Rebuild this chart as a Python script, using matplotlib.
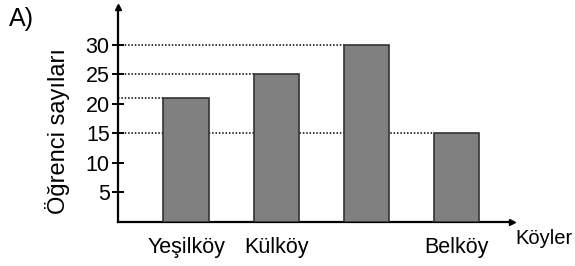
import matplotlib
matplotlib.use("Agg")
import matplotlib.pyplot as plt

categories = ["Yeşilköy", "Külköy", "", "Belköy"]
values = [21, 25, 30, 15]
yticks = [5, 10, 15, 20, 25, 30]

plt.rcParams['font.family'] = ['Liberation Sans', 'DejaVu Sans']

W, H = 575, 266
fig = plt.figure(figsize=(W/100, H/100), dpi=100)
left, right, bottom, top = 118, 512, 222, 7
ax = fig.add_axes([left/W, (H-bottom)/H, (right-left)/W, (bottom-top)/H])

x = list(range(len(values)))
bw = 0.5
ax.bar(x, values, width=bw, color="#808080", edgecolor="#333333", linewidth=1.2, zorder=3)

xmin, xmax = -0.754, 3.614
ax.set_xlim(xmin, xmax)
ax.set_ylim(0, 36.4)

for xi, v in zip(x, values):
    ax.hlines(v, xmin, xi - bw/2, colors="black", linestyles=(0, (1, 1.2)), linewidth=1.1, zorder=2)

ax.spines['top'].set_visible(False)
ax.spines['right'].set_visible(False)
ax.spines['left'].set_linewidth(1.6)
ax.spines['bottom'].set_linewidth(1.6)
ax.plot([0], [1], marker='^', color='black', markersize=5, transform=ax.transAxes, clip_on=False)
ax.plot([1], [0], marker='>', color='black', markersize=5, transform=ax.transAxes, clip_on=False)

ax.set_yticks(yticks)
ax.set_yticklabels([str(t) for t in yticks], fontsize=15.5)
ax.tick_params(axis='y', direction='inout', length=8, width=1.4, pad=2)
ax.set_xticks(x)
ax.set_xticklabels(categories, fontsize=15.5)
ax.tick_params(axis='x', length=0, pad=11)

fig.text(515/W, 1 - 239/H, "Köyler", fontsize=14.5, ha='left', va='center')
fig.text(9/W, 1 - 19/H, "A)", fontsize=18, ha='left', va='center')
fig.text(58/W, 1 - 131/H, "Öğrenci sayıları", fontsize=17, rotation=90, ha='center', va='center')

fig.savefig("out.png", dpi=100)
